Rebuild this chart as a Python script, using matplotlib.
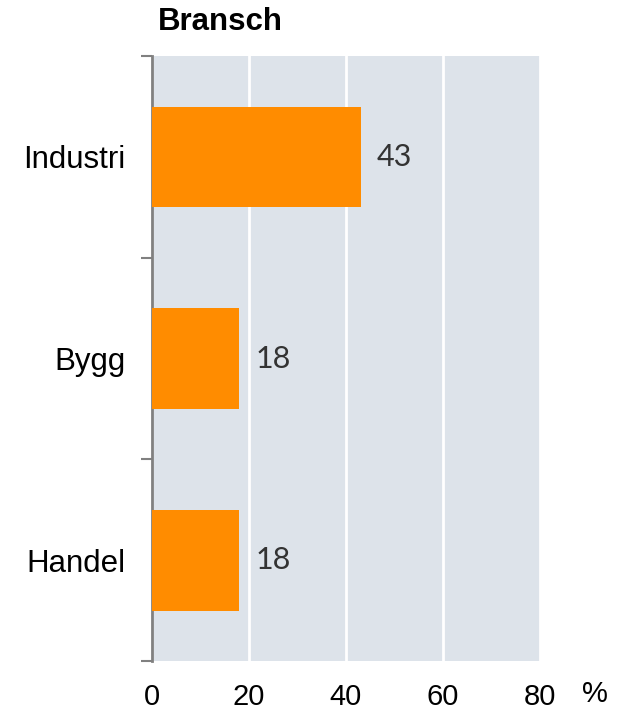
import matplotlib
matplotlib.use("Agg")
from matplotlib import pyplot as plt
from matplotlib.ticker import FixedLocator

# Data
categories = ['Industri', 'Bygg', 'Handel']
values = [43, 18, 18]
xticks = [0, 20, 40, 60, 80]

plt.rcParams['font.family'] = ['Liberation Sans', 'DejaVu Sans']

fig = plt.figure(figsize=(6.2, 7.1), dpi=100)
ax = fig.add_axes([0.245, 0.069, 0.626, 0.852])
ax.set_facecolor('#dde3ea')

pos = list(range(len(categories)))
ax.barh(pos, values, height=0.5, color='#ff8c00', zorder=3)
ax.set_ylim(len(categories) - 0.5, -0.5)
ax.set_xlim(0, 80)

# value labels
for p, v in zip(pos, values):
    ax.text(v + 3.4, p, str(v), va='center', ha='left', fontsize=22,
            family=['Lato', 'DejaVu Sans'], color='#333333', zorder=4)

# grid
ax.set_xticks(xticks)
ax.set_xticklabels([str(t) for t in xticks], fontsize=21)
ax.tick_params(axis='x', length=0, pad=16)
ax.grid(axis='x', color='white', linewidth=2, zorder=1)

# y axis: labels at centres, tick marks at boundaries
ax.set_yticks(pos)
ax.set_yticklabels(categories, fontsize=22.5)
ax.tick_params(axis='y', which='major', length=0, pad=19)
ax.yaxis.set_minor_locator(FixedLocator([-0.5, 0.5, 1.5, 2.5]))
ax.tick_params(axis='y', which='minor', length=8, width=1.5, color='#808080')

for s in ['top', 'right', 'bottom']:
    ax.spines[s].set_visible(False)
ax.spines['left'].set_color('#808080')
ax.spines['left'].set_linewidth(2)

fig.text(0.255, 0.969, 'Bransch', fontsize=22.5, fontweight='bold', ha='left', va='center')
fig.text(0.96, 0.022, '%', fontsize=21, ha='center', va='center')

fig.savefig('out.png', dpi=100)
